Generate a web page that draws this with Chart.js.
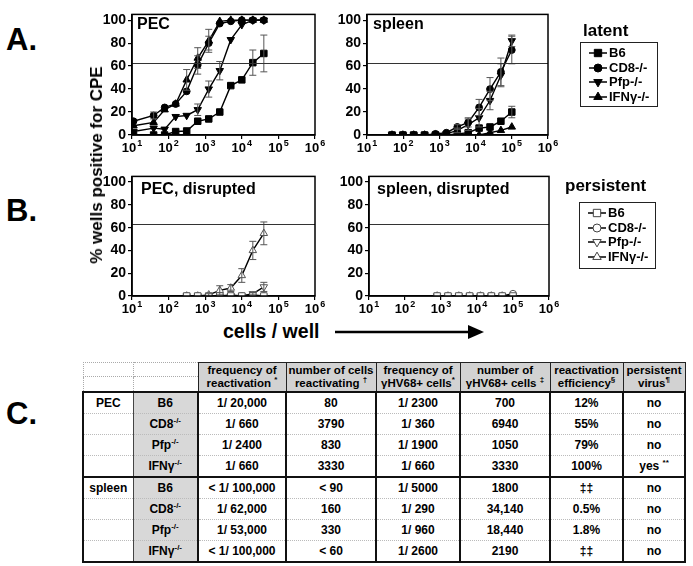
<!DOCTYPE html>
<html><head><meta charset="utf-8">
<script src="https://cdn.jsdelivr.net/npm/chart.js@4/dist/chart.umd.min.js"></script>
<style>
body{margin:0;background:#fff;width:693px;height:566px;position:relative;overflow:hidden;font-family:"Liberation Sans",Arial,sans-serif;font-weight:bold;color:#000}
.abs{position:absolute}
canvas{position:absolute}
.big{position:absolute;font-size:31px;font-weight:bold}
.ptitle{position:absolute;font-size:16px;font-weight:bold;white-space:nowrap}
.legend{position:absolute;border:1.5px solid #222;box-sizing:border-box;padding:3px 0 0 7px}
.li{height:14.5px;font-size:13px;line-height:14.5px;display:flex;align-items:center;white-space:nowrap}
.li canvas{position:static;margin-right:1px}
table{position:absolute;border-collapse:collapse;table-layout:fixed;font-size:12px;font-weight:bold}
td{text-align:center;padding:0;overflow:visible;white-space:nowrap}
td sup{font-size:8px;vertical-align:5px;line-height:0}
.h{background:#d2d2d2;border:1.5px solid #222;font-size:11.5px;line-height:13px}
.he{border:1px dotted #aaa}
.g{background:#d8d8d8}
.b td{height:20px;border-top:1px dotted #bbb;border-left:2px solid #111;border-right:2px solid #111}
.b td.c1{border-right:1px solid #444}
.b td.c2{border-left:1px solid #444}
tr.first td{border-top:2px solid #111}
tr.last td{border-bottom:2px solid #111}
</style></head><body>

<div class="big" style="left:6px;top:22px">A.</div>
<div class="big" style="left:6px;top:193px">B.</div>
<div class="big" style="left:6px;top:396px">C.</div>

<canvas id="cA1" width="241" height="153" style="left:92px;top:4px"></canvas>
<canvas id="cA2" width="239" height="153" style="left:327px;top:4px"></canvas>
<canvas id="cB1" width="241" height="152" style="left:92px;top:166px"></canvas>
<canvas id="cB2" width="238" height="152" style="left:329px;top:166px"></canvas>

<div class="ptitle" style="left:137px;top:15px">PEC</div>
<div class="ptitle" style="left:373px;top:15px">spleen</div>
<div class="ptitle" style="left:141px;top:180px">PEC, disrupted</div>
<div class="ptitle" style="left:377px;top:180px">spleen, disrupted</div>

<div class="abs" style="left:97px;top:165px;transform:translate(-50%,-50%) rotate(-90deg);font-size:17px;white-space:nowrap">% wells positive for CPE</div>

<div class="abs" style="left:583px;top:21px;font-size:17px">latent</div>
<div class="abs" style="left:565px;top:176px;font-size:17px">persistent</div>
<div id="legA" class="legend" style="left:580px;top:42px;width:78px;height:65px"></div>
<div id="legB" class="legend" style="left:579px;top:202px;width:77px;height:67px"></div>

<div class="abs" style="left:223px;top:320px;font-size:19.5px">cells / well</div>
<svg class="abs" style="left:330px;top:322px" width="160" height="20">
  <line x1="5" y1="10" x2="140" y2="10" stroke="#000" stroke-width="2.5"/>
  <polygon points="138,3 154,10 138,17" fill="#000"/>
</svg>

<table id="tbl" style="left:82px;top:362px;width:602px"></table>

<script>
// ---------- data ----------
const pecX = [11, 39, 78, 156, 312, 625, 1250, 2500, 5000, 10000, 20000, 40000];
const spleenX = [49, 98, 195, 390, 781, 1562, 3125, 6250, 12500, 25000, 50000, 100000];
const pecDisX = [312, 625, 1250, 2500, 5000, 10000, 20000, 40000];
const spleenDisX = [781, 1562, 3125, 6250, 12500, 25000, 50000, 100000];
const xTickExps = [1, 2, 3, 4, 5, 6];
const cutoff = 63;
const genotypes = ['B6', 'CD8-/-', 'Pfp-/-', 'IFNγ-/-'];

// Panel A, PEC (latent)
const pecB6 = [0, 0, 0, 3, 3.5, 12, 14, 20, 43, 48, 63, 71];
const pecB6Err = [0, 0, 0, 0, 0, 0, 0, 0, 0, 0, 11, 16];
const pecCD8 = [12, 17, 24, 27, 38, 61, 80, 97, 99, 100, 100, 100];
const pecCD8Err = [0, 3, 0, 0, 0, 8, 6, 0, 0, 0, 0, 0];
const pecPfp = [3, 6, 5, 16, 17, 22, 40, 56, 83, 96, 100, 100];
const pecPfpErr = [0, 0, 0, 0, 0, 5, 7, 8, 0, 0, 0, 0];
const pecIFN = [8, 11, 22, 27, 48, 67, 82, 99, 100, 100, 100, 100];
const pecIFNErr = [0, 0, 0, 0, 9, 9, 10, 0, 0, 0, 0, 0];

// Panel A, spleen (latent)
const spB6 = [0, 0, 0, 0, 0, 0, 1, 2, 6, 7, 12, 20];
const spB6Err = [0, 0, 0, 0, 0, 0, 0, 0, 0, 0, 0, 5];
const spCD8 = [0, 0, 0, 0, 1, 2, 7, 11, 24, 40, 55, 74];
const spCD8Err = [0, 0, 0, 0, 0, 0, 2, 4, 7, 10, 12, 12];
const spPfp = [0, 0, 0, 0, 0, 1, 4, 9, 15, 30, 52, 82];
const spPfpErr = [0, 0, 0, 0, 0, 0, 2, 5, 8, 8, 10, 5];
const spIFN = [0, 0, 0, 0, 0, 0, 0, 0, 0, 2, 4, 7];
const spIFNErr = [0, 0, 0, 0, 0, 0, 0, 0, 0, 0, 0, 0];

// Panel B, PEC disrupted (persistent)
const pdB6 = [0, 0, 0, 0, 0, 0, 0, 0];
const pdCD8 = [0, 0, 0, 0, 1, 0, 1, 0];
const pdPfp = [0, 0, 0, 0, 0, 0, 2, 8];
const pdPfpErr = [0, 0, 0, 0, 0, 0, 1, 4];
const pdIFN = [0, 0, 1, 5, 7, 18, 40, 55];
const pdIFNErr = [0, 0, 1, 4, 3, 6, 8, 10];

// Panel B, spleen disrupted (persistent)
const sdB6 = [0, 0, 0, 0, 0, 0, 0, 0];
const sdCD8 = [0, 0, 0, 0, 0, 0, 0, 2];
const sdPfp = [0, 0, 0, 0, 0, 0, 0, 0];
const sdIFN = [0, 0, 0, 0, 0, 0, 0, 0];

// Table C
const tissues = ['PEC', 'spleen'];
const tableGenotypes = ['B6', 'CD8<sup>-/-</sup>', 'Pfp<sup>-/-</sup>', 'IFNγ<sup>-/-</sup>'];
const headers = ['frequency of<br>reactivation <sup>*</sup>', 'number of cells<br>reactivating <sup>†</sup>',
  'frequency of<br>γHV68+ cells<sup>*</sup>', 'number of<br>γHV68+ cells <sup>‡</sup>',
  'reactivation<br>efficiency<sup>§</sup>', 'persistent<br>virus<sup>¶</sup>'];
const freqReact = ['1/ 20,000', '1/ 660', '1/ 2400', '1/ 660', '&lt; 1/ 100,000', '1/ 62,000', '1/ 53,000', '&lt; 1/ 100,000'];
const numReact = ['80', '3790', '830', '3330', '&lt; 90', '160', '330', '&lt; 60'];
const freqInf = ['1/ 2300', '1/ 360', '1/ 1900', '1/ 660', '1/ 5000', '1/ 290', '1/ 960', '1/ 2600'];
const numInf = ['700', '6940', '1050', '3330', '1800', '34,140', '18,440', '2190'];
const efficiency = ['12%', '55%', '79%', '100%', '‡‡', '0.5%', '1.8%', '‡‡'];
const persistentVirus = ['no', 'no', 'no', 'yes <sup>**</sup>', 'no', 'no', 'no', 'no'];

// ---------- styles ----------
const markers = [
  {style: 'rect', radius: 4.6, rot: 0},
  {style: 'circle', radius: 3.4, rot: 0},
  {style: 'triangle', radius: 4.3, rot: 180},
  {style: 'triangle', radius: 4.3, rot: 0}
];

const FONT = '"Liberation Sans", Arial, sans-serif';

const framePlugin = {
  id: 'frame',
  afterDatasetsDraw(chart) {
    const {ctx, chartArea: a, scales} = chart;
    ctx.save();
    // error bars
    chart.data.datasets.forEach((ds, i) => {
      if (!ds.err) return;
      const meta = chart.getDatasetMeta(i);
      ds.err.forEach((e, j) => {
        if (!e) return;
        const x = meta.data[j].x;
        const y1 = scales.y.getPixelForValue(ds.data[j] + e);
        const y2 = scales.y.getPixelForValue(Math.max(0, ds.data[j] - e));
        ctx.strokeStyle = '#555'; ctx.lineWidth = 1;
        ctx.beginPath();
        ctx.moveTo(x, y1); ctx.lineTo(x, y2);
        ctx.moveTo(x - 3.5, y1); ctx.lineTo(x + 3.5, y1);
        ctx.moveTo(x - 3.5, y2); ctx.lineTo(x + 3.5, y2);
        ctx.stroke();
      });
    });
    ctx.restore();
  },
  afterDraw(chart) {
    const {ctx, chartArea: a, scales} = chart;
    ctx.save();
    // cutoff line
    const yc = Math.round(scales.y.getPixelForValue(cutoff)) + 0.5;
    ctx.strokeStyle = '#333'; ctx.lineWidth = 1.2;
    ctx.beginPath(); ctx.moveTo(a.left, yc); ctx.lineTo(a.right, yc); ctx.stroke();
    // frame
    ctx.strokeStyle = '#000'; ctx.lineWidth = 1.5;
    ctx.strokeRect(a.left, a.top, a.right - a.left, a.bottom - a.top);
    // x tick labels 10^k
    ctx.fillStyle = '#000';
    ctx.textBaseline = 'alphabetic';
    xTickExps.forEach(k => {
      const x = scales.x.getPixelForValue(Math.pow(10, k));
      ctx.font = 'bold 13px ' + FONT;
      const w1 = ctx.measureText('10').width;
      ctx.font = 'bold 9px ' + FONT;
      const w2 = ctx.measureText(String(k)).width;
      const x0 = x - (w1 + w2 + 1) / 2;
      const yb = a.bottom + 17;
      ctx.font = 'bold 13px ' + FONT;
      ctx.textAlign = 'left';
      ctx.fillText('10', x0, yb);
      ctx.font = 'bold 9px ' + FONT;
      ctx.fillText(String(k), x0 + w1 + 1, yb - 6);
    });
    ctx.restore();
  }
};

function makeChart(id, xs, series, errs, filled) {
  const datasets = series.map((d, i) => ({
    label: genotypes[i],
    data: d.map((v, j) => ({x: xs[j], y: v})),
    err: errs[i],
    borderColor: '#000',
    borderWidth: 1.4,
    pointStyle: markers[i].style,
    pointRadius: markers[i].radius,
    pointRotation: markers[i].rot,
    pointBackgroundColor: filled ? '#000' : '#fff',
    pointBorderColor: filled ? '#000' : '#555',
    pointBorderWidth: 1,
    tension: 0,
    fill: false
  }));
  // attach raw values for error bars
  datasets.forEach((ds, i) => { ds.err = errs[i]; ds.rawVals = series[i]; });
  datasets.forEach(ds => { ds.errData = ds.rawVals; });
  return new Chart(document.getElementById(id), {
    type: 'line',
    data: {datasets},
    options: {
      responsive: false,
      animation: false,
      devicePixelRatio: 1,
      parsing: true,
      layout: {padding: {top: 10, right: 18, left: 0, bottom: 0}},
      plugins: {legend: {display: false}, tooltip: {enabled: false}},
      scales: {
        x: {
          type: 'logarithmic', min: 10, max: 1e6,
          afterBuildTicks: s => { s.ticks = xTickExps.map(k => ({value: Math.pow(10, k)})); },
          afterFit: s => { s.height = 22; },
          ticks: {display: false},
          grid: {display: true, drawOnChartArea: false, drawTicks: true, tickLength: 4, color: '#000', lineWidth: 1.2},
          border: {display: true, color: '#000', width: 1.5}
        },
        y: {
          min: 0, max: 105,
          afterFit: s => { s.width = 40; },
          ticks: {stepSize: 20, includeBounds: false, color: '#000', padding: 2,
            font: {family: FONT, size: 14, weight: 'bold'}},
          grid: {display: true, drawOnChartArea: false, drawTicks: true, tickLength: 4, color: '#000', lineWidth: 1.2},
          border: {display: true, color: '#000', width: 1.5}
        }
      }
    },
    plugins: [framePlugin]
  });
}

// fix error bar plugin to use y values
framePlugin.afterDatasetsDraw = function(chart) {
  const {ctx, scales} = chart;
  ctx.save();
  chart.data.datasets.forEach((ds, i) => {
    if (!ds.err) return;
    const meta = chart.getDatasetMeta(i);
    ds.err.forEach((e, j) => {
      if (!e) return;
      const v = ds.rawVals[j];
      const x = meta.data[j].x;
      const y1 = scales.y.getPixelForValue(v + e);
      const y2 = scales.y.getPixelForValue(Math.max(0, v - e));
      ctx.strokeStyle = '#555'; ctx.lineWidth = 1;
      ctx.beginPath();
      ctx.moveTo(x, y1); ctx.lineTo(x, y2);
      ctx.moveTo(x - 3.5, y1); ctx.lineTo(x + 3.5, y1);
      ctx.moveTo(x - 3.5, y2); ctx.lineTo(x + 3.5, y2);
      ctx.stroke();
    });
  });
  ctx.restore();
};

makeChart('cA1', pecX, [pecB6, pecCD8, pecPfp, pecIFN], [pecB6Err, pecCD8Err, pecPfpErr, pecIFNErr], true);
makeChart('cA2', spleenX, [spB6, spCD8, spPfp, spIFN], [spB6Err, spCD8Err, spPfpErr, spIFNErr], true);
makeChart('cB1', pecDisX, [pdB6, pdCD8, pdPfp, pdIFN], [null, null, pdPfpErr, pdIFNErr], false);
makeChart('cB2', spleenDisX, [sdB6, sdCD8, sdPfp, sdIFN], [null, null, null, null], false);

// ---------- legends ----------
function buildLegend(id, filled) {
  const box = document.getElementById(id);
  genotypes.forEach((g, i) => {
    const row = document.createElement('div');
    row.className = 'li';
    const c = document.createElement('canvas');
    c.width = 20; c.height = 12;
    const ctx = c.getContext('2d');
    ctx.strokeStyle = '#000'; ctx.lineWidth = 1.5;
    ctx.beginPath(); ctx.moveTo(1, 6); ctx.lineTo(19, 6); ctx.stroke();
    ctx.fillStyle = filled ? '#000' : '#fff';
    ctx.strokeStyle = filled ? '#000' : '#444';
    ctx.lineWidth = 1;
    Chart.helpers.drawPoint(ctx, {pointStyle: markers[i].style, radius: markers[i].radius + 0.6,
      rotation: markers[i].rot, borderWidth: 1}, 10, 6);
    row.appendChild(c);
    const t = document.createElement('span');
    t.textContent = g;
    row.appendChild(t);
    box.appendChild(row);
  });
}
buildLegend('legA', true);
buildLegend('legB', false);

// ---------- table ----------
(function () {
  const widths = [50, 65, 88, 90, 84, 90, 73, 62];
  let html = '<colgroup>' + widths.map(w => `<col style="width:${w}px">`).join('') + '</colgroup>';
  html += '<tr style="height:14px"><td class="he"></td><td class="he"></td>' +
    headers.map(h => `<td class="h" rowspan="2">${h}</td>`).join('') + '</tr>';
  html += '<tr style="height:15px"><td class="he"></td><td class="he"></td></tr>';
  for (let r = 0; r < 8; r++) {
    const cls = ['b'];
    if (r % 4 === 0) cls.push('first');
    if (r === 7) cls.push('last');
    const t = r % 4 === 0 ? tissues[r / 4] : '';
    html += `<tr class="${cls.join(' ')}"><td class="c1">${t}</td><td class="c2 g">${tableGenotypes[r % 4]}</td>` +
      `<td>${freqReact[r]}</td><td>${numReact[r]}</td><td>${freqInf[r]}</td><td>${numInf[r]}</td>` +
      `<td>${efficiency[r]}</td><td>${persistentVirus[r]}</td></tr>`;
  }
  document.getElementById('tbl').innerHTML = html;
})();
</script>
</body></html>
